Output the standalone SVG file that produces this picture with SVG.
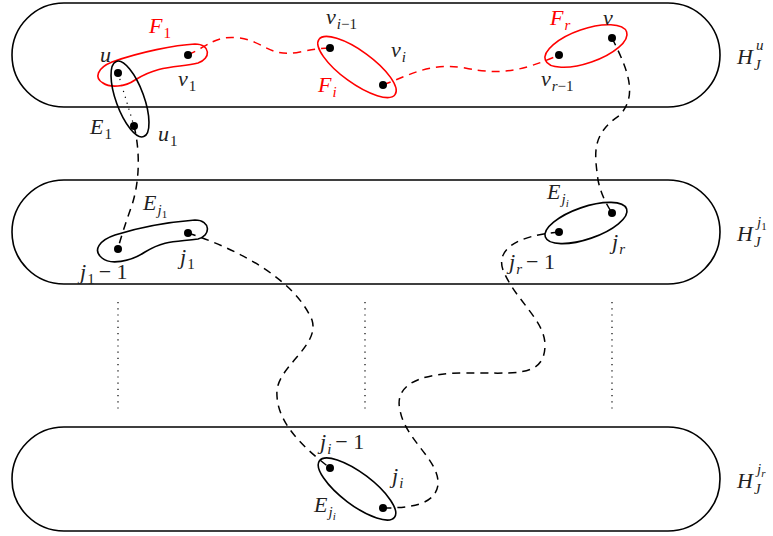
<svg xmlns="http://www.w3.org/2000/svg" width="773" height="536" viewBox="0 0 773 536">
  <style>
    .band { fill: none; stroke: #000; stroke-width: 1.6; }
    .set { fill: none; stroke: #000; stroke-width: 1.6; }
    .rset { fill: none; stroke: #f00; stroke-width: 1.6; }
    .dash { fill: none; stroke: #000; stroke-width: 1.5; stroke-dasharray: 8 6; }
    .rdash { fill: none; stroke: #f00; stroke-width: 1.5; stroke-dasharray: 8 6; }
    .dots { fill: none; stroke: #000; stroke-width: 1.2; stroke-dasharray: 1.2 5; }
    .pt { fill: #000; }
    text { font-family: "Liberation Serif", "DejaVu Serif", serif; font-style: italic; font-size: 22px; fill: #222; }
    .red { fill: #f00; }
    .sub { font-size: 15px; }
    .tiny { font-size: 11px; }
    .up { font-style: normal; }
  </style>

  <!-- three host graphs drawn as stadium bands -->
  <g id="band-u">
    <rect class="band" x="12" y="3" width="708" height="104" rx="52" ry="52"/>
    <text x="737" y="64">H</text>
    <text class="sub" x="756" y="50">u</text>
    <text class="sub" x="754" y="70">J</text>
  </g>
  <g id="band-j1">
    <rect class="band" x="12" y="180" width="708" height="104" rx="52" ry="52"/>
    <text x="737" y="241">H</text>
    <text class="sub" x="757" y="227">j<tspan class="tiny up" dy="3">1</tspan></text>
    <text class="sub" x="754" y="247">J</text>
  </g>
  <g id="band-jr">
    <rect class="band" x="12" y="427" width="708" height="104" rx="52" ry="52"/>
    <text x="737" y="488">H</text>
    <text class="sub" x="757" y="474">j<tspan class="tiny" dy="3">r</tspan></text>
    <text class="sub" x="754" y="494">J</text>
  </g>

  <!-- vertical ellipsis between bands -->
  <g id="ellipsis">
    <line class="dots" x1="118" y1="302" x2="118" y2="410"/>
    <line class="dots" x1="365" y1="302" x2="365" y2="410"/>
    <line class="dots" x1="612" y1="302" x2="612" y2="410"/>
  </g>

  <!-- connecting paths -->
  <g id="connectors">
    <line x1="118" y1="73" x2="134" y2="126" class="dots"/>
    <path class="rdash" d="M188,55 C210,45 215,35 240,38 C265,42 270,58 300,52 C315,49 322,48 330,48"/>
    <path class="rdash" d="M383,85 C410,75 430,62 465,68 C500,75 520,72 559,55"/>
    <path class="dash" d="M134,126 C140,150 140,180 132,205 C125,225 120,240 118,249"/>
    <path class="dash" d="M612,38 C628,70 638,95 620,115 C590,135 595,155 598,180 C601,195 607,205 612,213"/>
    <path class="dash" d="M188,233 C240,250 295,280 312,320 C320,345 280,365 277,390 C275,420 300,445 330,468"/>
    <path class="dash" d="M559,232 C515,236 496,250 503,270 C515,300 545,320 545,345 C545,380 510,372 460,373 C410,374 395,390 400,410 C405,440 440,460 438,485 C435,505 410,508 383,508"/>
  </g>

  <!-- hyperedges -->
  <g id="F1">
    <path class="rset" d="M103,83 C94,78 97,68 112,62 C140,52 175,45 195,44 C211,44 211,59 198,63 C180,68 160,64 135,80 C125,87 110,88 103,83 Z"/>
    <text class="red" x="149" y="33">F<tspan class="sub up" dx="1" dy="5">1</tspan></text>
  </g>
  <g id="E1">
    <ellipse class="set" cx="130" cy="99" rx="40" ry="14" transform="rotate(70 130 99)"/>
    <text x="90" y="134">E<tspan class="sub up" dx="1" dy="5">1</tspan></text>
  </g>
  <g id="Fi">
    <ellipse class="rset" cx="357" cy="67" rx="47" ry="16" transform="rotate(36 357 67)"/>
    <text class="red" x="318" y="92">F<tspan class="sub" dx="1" dy="5">i</tspan></text>
  </g>
  <g id="Fr">
    <ellipse class="rset" cx="586" cy="46" rx="43" ry="17" transform="rotate(-19 586 46)"/>
    <text class="red" x="550" y="25">F<tspan class="sub" dx="1" dy="5">r</tspan></text>
  </g>
  <g id="Ej1">
    <path class="set" d="M102,258 C92,250 100,240 115,235 C140,227 170,222 195,220 C211,220 211,236 198,239 C175,242 165,240 145,252 C130,262 110,265 102,258 Z"/>
    <text x="143" y="210">E<tspan class="sub" dx="1" dy="5">j<tspan class="tiny up" dy="3">1</tspan></tspan></text>
  </g>
  <g id="Eji-top">
    <ellipse class="set" cx="586" cy="223" rx="43" ry="16" transform="rotate(-19 586 223)"/>
    <text x="547" y="199">E<tspan class="sub" dx="1" dy="5">j<tspan class="tiny" dy="3">i</tspan></tspan></text>
  </g>
  <g id="Eji-bottom">
    <ellipse class="set" cx="357" cy="489" rx="47" ry="16" transform="rotate(37 357 489)"/>
    <text x="314" y="512">E<tspan class="sub" dx="1" dy="5">j<tspan class="tiny" dy="3">i</tspan></tspan></text>
  </g>

  <!-- vertices -->
  <g id="vertices">
    <circle class="pt" cx="118" cy="73" r="4"/>
    <circle class="pt" cx="188" cy="55" r="4"/>
    <circle class="pt" cx="134" cy="126" r="4"/>
    <circle class="pt" cx="330" cy="48" r="4"/>
    <circle class="pt" cx="383" cy="85" r="4"/>
    <circle class="pt" cx="559" cy="55" r="4"/>
    <circle class="pt" cx="612" cy="38" r="4"/>
    <circle class="pt" cx="118" cy="249" r="4"/>
    <circle class="pt" cx="188" cy="233" r="4"/>
    <circle class="pt" cx="559" cy="232" r="4"/>
    <circle class="pt" cx="612" cy="213" r="4"/>
    <circle class="pt" cx="330" cy="468" r="4"/>
    <circle class="pt" cx="383" cy="508" r="4"/>
  </g>

  <!-- vertex labels -->
  <g id="labels">
    <text x="100" y="62">u</text>
    <text x="178" y="86">v<tspan class="sub up" dx="1" dy="5">1</tspan></text>
    <text x="158" y="141">u<tspan class="sub up" dx="1" dy="5">1</tspan></text>
    <text x="326" y="24">v<tspan class="sub" dx="1" dy="5">i<tspan class="up">−1</tspan></tspan></text>
    <text x="391" y="57">v<tspan class="sub" dx="1" dy="5">i</tspan></text>
    <text x="541" y="86">v<tspan class="sub" dx="1" dy="5">r<tspan class="up">−1</tspan></tspan></text>
    <text x="603" y="25">v</text>
    <text x="80" y="279">j<tspan class="sub up" dx="1" dy="5">1</tspan><tspan class="up" dx="4" dy="-5">− 1</tspan></text>
    <text x="180" y="264">j<tspan class="sub up" dx="1" dy="5">1</tspan></text>
    <text x="509" y="269">j<tspan class="sub" dx="1" dy="5">r</tspan><tspan class="up" dx="4" dy="-5">− 1</tspan></text>
    <text x="612" y="249">j<tspan class="sub" dx="1" dy="5">r</tspan></text>
    <text x="320" y="449">j<tspan class="sub" dx="1" dy="5">i</tspan><tspan class="up" dx="4" dy="-5">− 1</tspan></text>
    <text x="392" y="483">j<tspan class="sub" dx="1" dy="5">i</tspan></text>
  </g>
</svg>
